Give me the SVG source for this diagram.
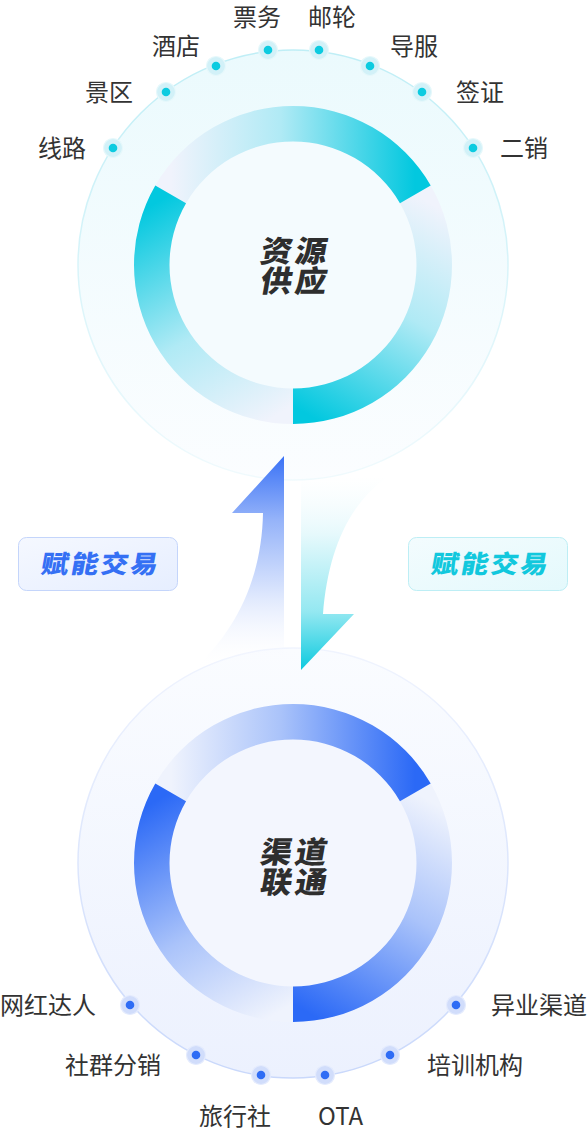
<svg xmlns="http://www.w3.org/2000/svg" width="587" height="1134" viewBox="0 0 587 1134">
<style>
.lbl{font-family:"Noto Sans CJK SC","Noto Sans",sans-serif;font-size:24px;fill:#333;}
.ctr{font-family:"Noto Sans CJK SC",sans-serif;font-size:30px;font-weight:900;fill:#2e2e2e;letter-spacing:3px;}
.tag{font-family:"Noto Sans CJK SC",sans-serif;font-size:25px;font-weight:800;letter-spacing:2px;}
.haloC{fill:#d2f1f8;stroke:#e6f8fb;stroke-width:1.2;}
.dotC{fill:#0ccbe0;}
.haloB{fill:#d1ddfb;stroke:#e4ebfd;stroke-width:1.2;}
.dotB{fill:#2e6cf5;}
</style>
<defs>
<linearGradient id="topFill" x1="0" y1="0" x2="0" y2="1">
<stop offset="0" stop-color="#ebfafd"/><stop offset="1" stop-color="#fbfdff"/>
</linearGradient>
<linearGradient id="topStroke" x1="0" y1="0" x2="0" y2="1">
<stop offset="0" stop-color="#bfeef6"/><stop offset="1" stop-color="#f0fafd"/>
</linearGradient>
<linearGradient id="botFill" x1="0" y1="0" x2="0" y2="1">
<stop offset="0" stop-color="#fafcff"/><stop offset="1" stop-color="#ecf1fe"/>
</linearGradient>
<linearGradient id="botStroke" x1="0" y1="0" x2="0" y2="1">
<stop offset="0" stop-color="#f0f4fe"/><stop offset="1" stop-color="#c9d8fb"/>
</linearGradient>
<linearGradient id="cA" gradientUnits="userSpaceOnUse" x1="293" y1="406" x2="415" y2="194">
<stop offset="0" stop-color="#02c8df"/><stop offset="0.55" stop-color="#b0eaf5"/><stop offset="1" stop-color="#f0f3fc"/>
</linearGradient>
<linearGradient id="cB" gradientUnits="userSpaceOnUse" x1="415" y1="194" x2="171" y2="194">
<stop offset="0" stop-color="#02c8df"/><stop offset="0.55" stop-color="#b0eaf5"/><stop offset="1" stop-color="#f0f3fc"/>
</linearGradient>
<linearGradient id="cC" gradientUnits="userSpaceOnUse" x1="171" y1="194" x2="293" y2="406">
<stop offset="0" stop-color="#02c8df"/><stop offset="0.55" stop-color="#b0eaf5"/><stop offset="1" stop-color="#f0f3fc"/>
</linearGradient>
<linearGradient id="bA" gradientUnits="userSpaceOnUse" x1="293" y1="1004" x2="415" y2="792">
<stop offset="0" stop-color="#2b69f6"/><stop offset="0.55" stop-color="#aac3fa"/><stop offset="1" stop-color="#eff3fd"/>
</linearGradient>
<linearGradient id="bB" gradientUnits="userSpaceOnUse" x1="415" y1="792" x2="171" y2="792">
<stop offset="0" stop-color="#2b69f6"/><stop offset="0.55" stop-color="#aac3fa"/><stop offset="1" stop-color="#eff3fd"/>
</linearGradient>
<linearGradient id="bC" gradientUnits="userSpaceOnUse" x1="171" y1="792" x2="293" y2="1004">
<stop offset="0" stop-color="#2b69f6"/><stop offset="0.55" stop-color="#aac3fa"/><stop offset="1" stop-color="#eff3fd"/>
</linearGradient>
<linearGradient id="upG" gradientUnits="userSpaceOnUse" x1="0" y1="456" x2="0" y2="668">
<stop offset="0" stop-color="#3a72f6"/><stop offset="0.3" stop-color="#95b3f9"/><stop offset="0.65" stop-color="#dce6fd"/><stop offset="1" stop-color="#ffffff" stop-opacity="0"/>
</linearGradient>
<linearGradient id="dnG" gradientUnits="userSpaceOnUse" x1="0" y1="476" x2="0" y2="670">
<stop offset="0" stop-color="#f4fcfe" stop-opacity="0"/><stop offset="0.3" stop-color="#e6f9fc"/><stop offset="0.7" stop-color="#94e8f1"/><stop offset="1" stop-color="#0dcadf"/>
</linearGradient>
<linearGradient id="boxB" x1="0" y1="0" x2="1" y2="1">
<stop offset="0" stop-color="#f5f8ff"/><stop offset="1" stop-color="#e6eeff"/>
</linearGradient>
<linearGradient id="boxC" x1="0" y1="0" x2="1" y2="1">
<stop offset="0" stop-color="#f3fcfe"/><stop offset="1" stop-color="#e4f9fc"/>
</linearGradient>
</defs>

<g id="supply-circle">
<circle cx="293" cy="265" r="215" fill="url(#topFill)" stroke="url(#topStroke)" stroke-width="1.5"/>
<circle cx="293" cy="265" r="124" fill="#f4fbfe"/>
<path d="M 430.70 185.5 A 159 159 0 0 1 293 424 L 293 388.5 A 123.5 123.5 0 0 0 399.95 203.25 Z" fill="url(#cA)"/>
<path d="M 155.30 185.5 A 159 159 0 0 1 430.70 185.5 L 399.95 203.25 A 123.5 123.5 0 0 0 186.05 203.25 Z" fill="url(#cB)"/>
<path d="M 293 424 A 159 159 0 0 1 155.30 185.5 L 186.05 203.25 A 123.5 123.5 0 0 0 293 388.5 Z" fill="url(#cC)"/>
<g transform="translate(259,262) skewX(-10) scale(1.05,1)"><text class="ctr" x="0" y="0">资源</text></g>
<g transform="translate(259,292) skewX(-10) scale(1.05,1)"><text class="ctr" x="0" y="0">供应</text></g>
</g>

<g id="channel-circle">
<circle cx="293" cy="863" r="215" fill="url(#botFill)" stroke="url(#botStroke)" stroke-width="1.5"/>
<circle cx="293" cy="863" r="124" fill="#f3f6fe"/>
<path d="M 430.70 783.5 A 159 159 0 0 1 293 1022 L 293 986.5 A 123.5 123.5 0 0 0 399.95 801.25 Z" fill="url(#bA)"/>
<path d="M 155.30 783.5 A 159 159 0 0 1 430.70 783.5 L 399.95 801.25 A 123.5 123.5 0 0 0 186.05 801.25 Z" fill="url(#bB)"/>
<path d="M 293 1022 A 159 159 0 0 1 155.30 783.5 L 186.05 801.25 A 123.5 123.5 0 0 0 293 986.5 Z" fill="url(#bC)"/>
<g transform="translate(259,863) skewX(-10) scale(1.05,1)"><text class="ctr" x="0" y="0">渠道</text></g>
<g transform="translate(259,893) skewX(-10) scale(1.05,1)"><text class="ctr" x="0" y="0">联通</text></g>
</g>

<g id="connectors">
<path id="arrow-up" d="M 284 456 L 232 513 L 263 513 C 262 570 242 625 195 668 L 284 668 Z" fill="url(#upG)"/>
<path id="arrow-down" d="M 301 476 L 301 670 L 354 614 L 323 614 C 328 552 348 502 392 474 Z" fill="url(#dnG)"/>
</g>

<g id="tag-left">
<rect x="18.5" y="537.5" width="159" height="53" rx="8" fill="url(#boxB)" stroke="#c4d5fb" stroke-width="1"/>
<g transform="translate(40,573) skewX(-10) scale(1.1,1)"><text class="tag" x="0" y="0" fill="#3570f4">赋能交易</text></g>
</g>
<g id="tag-right">
<rect x="408.5" y="537.5" width="159" height="53" rx="8" fill="url(#boxC)" stroke="#bdeef5" stroke-width="1"/>
<g transform="translate(430,573) skewX(-10) scale(1.1,1)"><text class="tag" x="0" y="0" fill="#12c8dd">赋能交易</text></g>
</g>

<g id="n-xianlu"><circle class="haloC" cx="113" cy="148" r="9.5"/><circle class="dotC" cx="113" cy="148" r="4.3"/><text class="lbl" x="38" y="157">线路</text></g>
<g id="n-jingqu"><circle class="haloC" cx="166" cy="92" r="9.5"/><circle class="dotC" cx="166" cy="92" r="4.3"/><text class="lbl" x="85" y="101">景区</text></g>
<g id="n-jiudian"><circle class="haloC" cx="216" cy="66" r="9.5"/><circle class="dotC" cx="216" cy="66" r="4.3"/><text class="lbl" x="152" y="55">酒店</text></g>
<g id="n-piaowu"><circle class="haloC" cx="268" cy="50" r="9.5"/><circle class="dotC" cx="268" cy="50" r="4.3"/><text class="lbl" x="233" y="26">票务</text></g>
<g id="n-youlun"><circle class="haloC" cx="319" cy="50" r="9.5"/><circle class="dotC" cx="319" cy="50" r="4.3"/><text class="lbl" x="308" y="26">邮轮</text></g>
<g id="n-daofu"><circle class="haloC" cx="370" cy="66" r="9.5"/><circle class="dotC" cx="370" cy="66" r="4.3"/><text class="lbl" x="390" y="55">导服</text></g>
<g id="n-qianzheng"><circle class="haloC" cx="422" cy="92" r="9.5"/><circle class="dotC" cx="422" cy="92" r="4.3"/><text class="lbl" x="456" y="101">签证</text></g>
<g id="n-erxiao"><circle class="haloC" cx="473" cy="148" r="9.5"/><circle class="dotC" cx="473" cy="148" r="4.3"/><text class="lbl" x="500" y="157">二销</text></g>

<g id="n-wanghong"><circle class="haloB" cx="130" cy="1005" r="9.5"/><circle class="dotB" cx="130" cy="1005" r="4.3"/><text class="lbl" x="0" y="1014">网红达人</text></g>
<g id="n-shequn"><circle class="haloB" cx="196" cy="1055" r="9.5"/><circle class="dotB" cx="196" cy="1055" r="4.3"/><text class="lbl" x="65" y="1074">社群分销</text></g>
<g id="n-lvxingshe"><circle class="haloB" cx="261" cy="1075" r="9.5"/><circle class="dotB" cx="261" cy="1075" r="4.3"/><text class="lbl" x="199" y="1125">旅行社</text></g>
<g id="n-ota"><circle class="haloB" cx="325" cy="1075" r="9.5"/><circle class="dotB" cx="325" cy="1075" r="4.3"/><text class="lbl" x="318" y="1125">OTA</text></g>
<g id="n-peixun"><circle class="haloB" cx="390" cy="1055" r="9.5"/><circle class="dotB" cx="390" cy="1055" r="4.3"/><text class="lbl" x="427" y="1074">培训机构</text></g>
<g id="n-yiye"><circle class="haloB" cx="456" cy="1005" r="9.5"/><circle class="dotB" cx="456" cy="1005" r="4.3"/><text class="lbl" x="491" y="1014">异业渠道</text></g>
</svg>
